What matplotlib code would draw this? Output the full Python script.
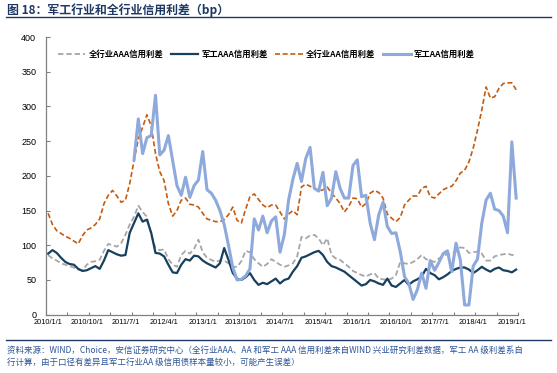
import matplotlib
matplotlib.use("Agg")
import matplotlib.pyplot as plt
import numpy as np
from matplotlib.lines import Line2D

plt.rcParams["font.family"] = ["Noto Sans CJK SC", "DejaVu Sans"]

# monthly series, 2010/1 .. 2019/2 (110 points)
all_aaa = [86, 81, 78, 74, 72, 70, 68, 65, 64, 72, 76, 77, 79, 92, 102, 100, 98, 103, 115, 130,
           141, 157, 148, 141, 115, 96, 93, 94, 80, 72, 69, 86, 92, 88, 95, 108, 90, 82, 79, 76,
           78, 78, 74, 69, 69, 77, 92, 90, 80, 74, 69, 73, 80, 76, 72, 69, 71, 74, 84, 112,
           110, 114, 115, 110, 100, 110, 86, 81, 79, 74, 69, 63, 60, 57, 55, 58, 60, 52, 51, 50,
           52, 57, 76, 74, 73, 76, 80, 86, 80, 78, 76, 81, 85, 87, 88, 91, 97, 96, 89, 90,
           91, 88, 78, 78, 84, 86, 87, 88, 86, 86]
mil_aaa = [88, 93, 89, 82, 76, 73, 72, 66, 63, 64, 67, 70, 66, 78, 93, 90, 87, 85, 86, 118,
           132, 146, 134, 137, 118, 89, 88, 84, 72, 61, 60, 72, 80, 78, 85, 84, 78, 74, 71, 68,
           74, 96, 79, 60, 52, 50, 54, 60, 50, 43, 46, 44, 48, 52, 45, 50, 52, 62, 70, 82,
           84, 87, 90, 92, 86, 76, 70, 68, 65, 62, 57, 52, 47, 42, 44, 50, 48, 45, 43, 52,
           42, 40, 45, 50, 43, 48, 51, 55, 66, 60, 57, 51, 54, 58, 63, 66, 68, 68, 65, 60,
           64, 69, 65, 62, 66, 68, 64, 63, 61, 65]
all_aa = [146, 130, 121, 117, 113, 110, 106, 102, 114, 122, 125, 130, 138, 160, 172, 179, 171, 162, 165, 189,
          222, 253, 270, 288, 272, 232, 206, 193, 160, 142, 150, 165, 168, 159, 158, 155, 146, 138, 136, 134,
          134, 137, 144, 155, 136, 132, 152, 170, 174, 166, 158, 154, 158, 158, 148, 138, 145, 150, 144, 184,
          188, 185, 182, 178, 180, 184, 175, 168, 160, 148, 156, 168, 167, 155, 160, 175, 179, 176, 168, 145,
          139, 134, 140, 158, 165, 171, 171, 182, 185, 170, 168, 174, 180, 183, 185, 193, 204, 208, 220, 240,
          266, 295, 328, 312, 314, 326, 333, 334, 334, 324]
mil_aa = [np.nan] * 20 + [
    223, 282, 232, 255, 258, 316, 230, 237, 258, 222, 186, 172, 198, 169, 186, 194, 235, 180, 175, 165,
    150, 130, 100, 68, 50, 51, 56, 66, 138, 122, 142, 118, 135, 141, 90, 115, 165, 195, 218, 192,
    225, 241, 182, 178, 205, 157, 168, 206, 182, 168, 168, 215, 223, 170, 172, 132, 108, 144, 162, 127,
    117, 118, 91, 55, 45, 22, 36, 60, 38, 78, 64, 75, 88, 92, 62, 103, 79, 14, 14, 70,
    80, 132, 165, 175, 152, 150, 142, 118, 249, 168]

tick_labels = ["2010/1/1", "2010/10/1", "2011/7/1", "2012/4/1", "2013/1/1", "2013/10/1",
               "2014/7/1", "2015/4/1", "2016/1/1", "2016/10/1", "2017/7/1", "2018/4/1", "2019/1/1"]

x = np.arange(len(all_aa))

fig = plt.figure(figsize=(5.57, 3.73), dpi=100)
ax = fig.add_axes([0.0826, 0.1563, 0.8479, 0.7445])

ax.plot(x, all_aaa, color="#A6A6A6", lw=1.3, ls=(0, (3, 1.6)), label="全行业AAA信用利差")
ax.plot(x, mil_aaa, color="#17405F", lw=1.6, label="军工AAA信用利差")
ax.plot(x, all_aa, color="#C55A11", lw=1.2, ls=(0, (3, 1.6)), label="全行业AA信用利差")
ax.plot(x, mil_aa, color="#8EA9DB", lw=2.2, label="军工AA信用利差")

ax.set_xlim(-0.5, len(x) - 0.5)
ax.set_ylim(0, 400)
ax.set_yticks(np.arange(0, 401, 50))
ax.tick_params(axis="y", direction="in", length=3, width=0.8, color="#808080",
               labelsize=6.5, pad=7)
for t in ax.get_yticklabels():
    t.set_family(["Liberation Sans", "DejaVu Sans"])

ax.set_xticks(np.arange(-0.5, len(x), 5))
ax.set_xticklabels([])
ax.tick_params(axis="x", which="major", direction="in", length=2.5, width=0.8, color="#808080")
ax.set_xticks(np.arange(0, len(x), 9), minor=True)
ax.set_xticklabels(tick_labels, minor=True, fontsize=5.3, family=["Liberation Sans", "DejaVu Sans"])
ax.tick_params(axis="x", which="minor", length=0, pad=3)

for side in ["top", "right"]:
    ax.spines[side].set_visible(False)
for side in ["left", "bottom"]:
    ax.spines[side].set_color("#808080")
    ax.spines[side].set_linewidth(0.9)

leg = ax.legend(loc="center", bbox_to_anchor=(0.478, 0.853), bbox_transform=fig.transFigure,
                ncol=4, frameon=False, handlelength=3.3, handletextpad=0.4,
                columnspacing=0.9, prop={"weight": "bold", "size": 6})

navy = "#1F3864"
fig.text(0.013, 0.973, "图 18：军工行业和全行业信用利差（bp）", fontsize=8.6, fontweight="bold",
         color=navy, va="center", ha="left")
fig.add_artist(Line2D([0.01, 0.99], [0.955, 0.955], transform=fig.transFigure, color=navy, lw=1.0))
fig.add_artist(Line2D([0.01, 0.99], [0.088, 0.088], transform=fig.transFigure, color=navy, lw=1.0))

src_color = "#2E5597"
fig.text(0.013, 0.060, "资料来源：WIND，Choice，安信证券研究中心（全行业AAA、AA 和军工 AAA 信用利差来自WIND 兴业研究利差数据，军工 AA 级利差系自",
         fontsize=6.1, style="italic", color=src_color, va="center", ha="left")
fig.text(0.013, 0.028, "行计算，由于口径有差异且军工行业AA 级信用债样本量较小，可能产生误差）",
         fontsize=6.1, style="italic", color=src_color, va="center", ha="left")

fig.savefig("out.png", dpi=100)
